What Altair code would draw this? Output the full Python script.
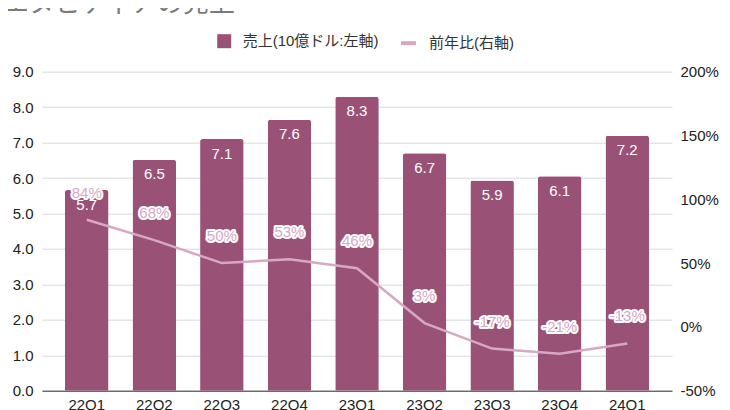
import altair as alt
import pandas as pd

title_text = "エヌビディアの売上"
quarters = ["22Q1", "22Q2", "22Q3", "22Q4", "23Q1", "23Q2", "23Q3", "23Q4", "24Q1"]
revenue = [5.66, 6.51, 7.10, 7.64, 8.29, 6.70, 5.93, 6.05, 7.19]
revenue_labels = ["5.7", "6.5", "7.1", "7.6", "8.3", "6.7", "5.9", "6.1", "7.2"]
yoy = [84, 68, 50, 53, 46, 3, -17, -21, -13]
yoy_labels = ["84%", "68%", "50%", "53%", "46%", "3%", "-17%", "-21%", "-13%"]
left_ticks = [0, 1, 2, 3, 4, 5, 6, 7, 8, 9]
right_ticks = [-50, 0, 50, 100, 150, 200]
bar_series = "売上(10億ドル:左軸)"
line_series = "前年比(右軸)"

BAR = "#9a5176"
LINE = "#d7a8c3"
FONT = "Liberation Sans, 'Noto Sans CJK JP', sans-serif"

df = pd.DataFrame({
    "q": quarters,
    "rev": revenue,
    "rev_lbl": revenue_labels,
    "yoy": yoy,
    "yoy_lbl": yoy_labels,
    "s1": bar_series,
    "s2": line_series,
})

xaxis = alt.Axis(labelAngle=0, labelFontSize=15, labelColor="#222", labelFont=FONT,
                 ticks=False, domainColor="#333", domainWidth=1, labelPadding=7, grid=False)
xscale = alt.Scale(paddingInner=0.356, paddingOuter=0.34)
xenc = alt.X("q:N", sort=quarters, title=None, scale=xscale, axis=xaxis)

lscale = alt.Scale(domain=[0, 9], nice=False, zero=False)
rscale = alt.Scale(domain=[-50, 200], nice=False, zero=False)
laxis = alt.Axis(values=left_ticks, format=".1f", labelFontSize=15, labelColor="#222",
                 labelFont=FONT, ticks=False, domain=False, labelPadding=9,
                 gridColor="#d9d9d9", gridWidth=1, grid=True)
raxis = alt.Axis(orient="right", values=right_ticks, labelExpr="datum.value + '%'",
                 labelFontSize=15, labelColor="#222", labelFont=FONT, ticks=False,
                 domain=False, grid=False, labelPadding=8)

yl = alt.Y("rev:Q", scale=lscale, title=None, axis=laxis)
yr = alt.Y("yoy:Q", scale=rscale, title=None, axis=raxis)

base = alt.Chart(df)

bars = base.mark_bar(cornerRadiusTopLeft=2.5, cornerRadiusTopRight=2.5).encode(
    x=xenc,
    y=yl,
    fill=alt.Fill("s1:N", scale=alt.Scale(domain=[bar_series], range=[BAR]),
                  legend=alt.Legend(orient="none", legendX=174.7, legendY=-38, title=None,
                                    symbolType="square", symbolSize=196, symbolStrokeWidth=0,
                                    labelFontSize=15, labelColor="#333", labelFont=FONT,
                                    labelOffset=11, padding=0)),
)

bar_text = base.mark_text(color="white", fontSize=15, font=FONT, baseline="middle", dy=14.5).encode(
    x=xenc,
    y=yl,
    text="rev_lbl:N",
)

line = base.mark_line(strokeWidth=2.5).encode(
    x=xenc,
    y=yr,
    stroke=alt.Stroke("s2:N", scale=alt.Scale(domain=[line_series], range=[LINE]),
                      legend=alt.Legend(orient="none", legendX=357, legendY=-38, title=None,
                                        symbolType="stroke", symbolSize=225, symbolStrokeWidth=4,
                                        labelFontSize=15, labelColor="#333", labelFont=FONT,
                                        labelOffset=11, padding=0)),
)

halo = base.mark_text(fontSize=15, font=FONT, baseline="middle", dy=-27, color="white",
                      stroke="white", strokeWidth=4, strokeJoin="round").encode(
    x=xenc,
    y=yr,
    text="yoy_lbl:N",
)
pct = base.mark_text(fontSize=15, font=FONT, baseline="middle", dy=-27, color=LINE).encode(
    x=xenc,
    y=yr,
    text="yoy_lbl:N",
)

title_mark = alt.Chart(pd.DataFrame({"t": [title_text]})).mark_text(
    fontSize=26, font=FONT, color="#7a7a7a", align="left", baseline="alphabetic"
).encode(x=alt.value(-39), y=alt.value(-59.7), text="t:N")

left = alt.layer(bars, bar_text)
right = alt.layer(line, halo, pct)

chart = alt.layer(left, right, title_mark).resolve_scale(y="independent").properties(
    width=630, height=319,
    autosize=alt.AutoSizeParams(type="none"),
    padding={"left": 34, "top": 63.7, "right": 50, "bottom": 20},
    background="white",
).configure_view(stroke=None)

chart.save("out.html", embed_options={"renderer": "svg", "actions": False})
